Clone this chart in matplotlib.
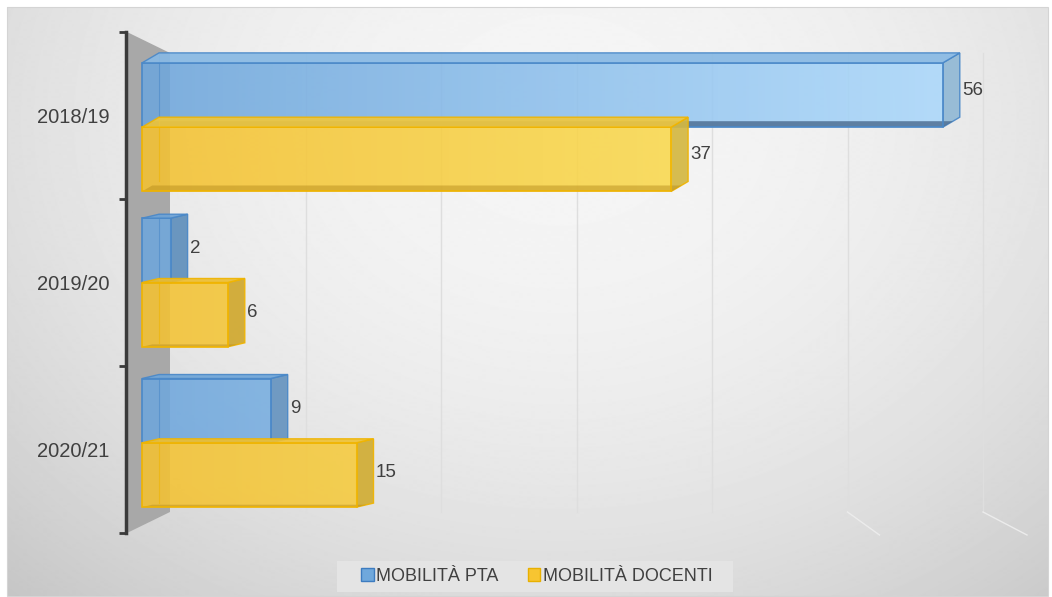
import numpy as np
import matplotlib.pyplot as plt
from matplotlib.patches import Polygon, Rectangle, Patch
from matplotlib.colors import LinearSegmentedColormap, to_rgb

plt.rcParams["font.family"] = ["Liberation Sans", "DejaVu Sans"]

# data
years = ["2018/19", "2019/20", "2020/21"]
pta = [56, 2, 9]
docenti = [37, 6, 15]
series_names = ["MOBILITÀ PTA", "MOBILITÀ DOCENTI"]
grid_values = [10, 20, 30, 40, 50, 60]

# canvas geometry (pixels)
W, H = 1052, 597
ZERO_PX = 142          # value 0 on the front plane
PX_PER_UNIT = 14.3     # front plane scale
BACK_ZERO_PX = 170     # value 0 on the back wall
BACK_PX_PER_UNIT = 13.55
FLOOR_PX_PER_UNIT = 14.75
CAT0_PX = 115.5        # centre of first category
CAT_PX = 167           # pixels per category

BAR_H = 0.385
GROUP_SHIFT = [0.07, 0.0, -0.04]
DEPTH_DX = 17 / PX_PER_UNIT
DEPTH_DY = [-10 / CAT_PX, -4 / CAT_PX, -4 / CAT_PX]
BAND_FRAC = 0.6

STYLES = [
    dict(lo="#6ea6dc", hi="#abd8fb", edge="#4a88c8", band="#4f7094", band_alpha=0.85,
         legend_face="#6fa8dc", legend_edge="#3d7cc0"),
    dict(lo="#f4c232", hi="#fce45c", edge="#f0b400", band="#b98f1e", band_alpha=0.5,
         legend_face="#f7c531", legend_edge="#e8b000"),
]
TEXT = "#404040"
AXIS = "#3a3a3a"


def fig_box(left, top, right, bottom):
    return [left / W, 1 - bottom / H, (right - left) / W, (bottom - top) / H]


def xpx(px):
    return (px - ZERO_PX) / PX_PER_UNIT


def ypx(px):
    return (px - CAT0_PX) / CAT_PX


def back_x(v):
    return xpx(BACK_ZERO_PX + BACK_PX_PER_UNIT * v)


def shade(color, f):
    return tuple(min(1.0, c * f) for c in to_rgb(color))


def mix(c1, c2, t):
    a, b = np.array(to_rgb(c1)), np.array(to_rgb(c2))
    return tuple(a + (b - a) * t)


fig = plt.figure(figsize=(W / 100, H / 100), dpi=100)
fig.patch.set_facecolor("white")

# chart area with soft radial lighting
bg = fig.add_axes([0, 0, 1, 1])
bg.set_xlim(0, W)
bg.set_ylim(H, 0)
bg.axis("off")
yy, xx = np.mgrid[7:597, 7:1049]
r2 = ((xx - 560) / 700.0) ** 2 + ((yy - 120) / 560.0) ** 2
light = 0.962 - 0.14 * r2
bg.imshow(light, cmap="gray", vmin=0, vmax=1, extent=(7, 1048, 596, 7),
          aspect="auto", interpolation="bilinear", zorder=0)
bg.add_patch(Rectangle((7, 7), 1041, 589, fill=False, edgecolor="#d4d4d4", lw=0.8, zorder=1))
bg.add_patch(Rectangle((337, 561), 396, 31, facecolor="#e4e4e4", edgecolor="none", zorder=1))

ax = fig.add_axes(fig_box(126, 7, 1048, 596))
ax.patch.set_visible(False)

# side wall
y_top_back, y_bot_back = ypx(53), ypx(512)
x_wall = xpx(127)
ax.add_patch(Polygon([(x_wall, -0.5), (back_x(0), y_top_back), (back_x(0), y_bot_back), (x_wall, 2.5)],
                     closed=True, facecolor="#a8a8a8", edgecolor="none", zorder=1))

# back wall gridlines; floor lines only show where they open well outwards
y_floor = ypx(535)
for v in grid_values:
    xb = back_x(v)
    xf = xpx(ZERO_PX + FLOOR_PX_PER_UNIT * v)
    ax.plot([xb, xb], [y_top_back, y_bot_back], color="#dedede", lw=1.0, zorder=1.5)
    if xf > xb + 2:
        ax.plot([xb, xf], [y_bot_back, y_floor], color="#ececec", lw=1.0, zorder=1.5)

vmax = max(max(pta), max(docenti))
grad = np.linspace(0, 1, 256)[None, :]

for s, values in enumerate([pta, docenti]):
    st = STYLES[s]
    cmap = LinearSegmentedColormap.from_list(f"s{s}", [st["lo"], st["hi"]])
    for i, v in enumerate(values):
        dy = DEPTH_DY[i]
        centre = i + GROUP_SHIFT[i] + (s - 0.5) * BAR_H
        top, bot = centre - BAR_H / 2, centre + BAR_H / 2
        z = 2 + s * 2
        end_col = mix(st["lo"], st["hi"], v / vmax)
        mid_col = mix(st["lo"], st["hi"], v / vmax / 2)

        # right end face
        ax.add_patch(Polygon([(v, top), (v + DEPTH_DX, top + dy), (v + DEPTH_DX, bot + dy), (v, bot)],
                             closed=True, facecolor=shade(end_col, 0.85), edgecolor=st["edge"],
                             lw=1.0, alpha=0.92, zorder=z))
        # front face with gradient
        bar = ax.barh(centre, v, height=BAR_H, left=0, color="none", edgecolor=st["edge"],
                      lw=1.2, zorder=z + 0.3)[0]
        im = ax.imshow(grad, cmap=cmap, extent=(0, vmax, bot, top), aspect="auto",
                       alpha=0.88, zorder=z + 0.1)
        im.set_clip_path(bar)
        # bottom face seen through the front
        bdx, bdy = DEPTH_DX * BAND_FRAC, dy * BAND_FRAC
        ax.add_patch(Polygon([(0, bot), (v, bot), (v + bdx, bot + bdy), (bdx, bot + bdy)],
                             closed=True, facecolor=st["band"], edgecolor="none",
                             alpha=st["band_alpha"], zorder=z + 0.2))
        # top face
        ax.add_patch(Polygon([(0, top), (v, top), (v + DEPTH_DX, top + dy), (DEPTH_DX, top + dy)],
                             closed=True, facecolor=shade(mid_col, 0.97), edgecolor=st["edge"],
                             lw=1.0, alpha=0.92, zorder=z + 0.4))
        # back edge visible through the box
        ax.plot([DEPTH_DX, DEPTH_DX], [top + dy, bot + dy], color=st["edge"], lw=0.8,
                alpha=0.6, zorder=z + 0.25)

        ax.annotate(str(v), (v + DEPTH_DX, centre + dy / 2), xytext=(2, 0),
                    textcoords="offset pixels", ha="left", va="center",
                    fontsize=13.5, color=TEXT, zorder=10)

ax.set_xlim(xpx(126), xpx(1048))
ax.set_ylim(ypx(596), ypx(7))

for side in ["top", "right", "bottom"]:
    ax.spines[side].set_visible(False)
ax.spines["left"].set_bounds(-0.5, 2.5)
ax.spines["left"].set_color(AXIS)
ax.spines["left"].set_linewidth(2.5)
ax.spines["left"].set_zorder(6)
ax.set_xticks([])
ax.set_yticks(range(len(years)), years)
ax.set_yticks([-0.5, 0.5, 1.5, 2.5], minor=True)
ax.tick_params(axis="y", which="major", length=0, pad=12, labelsize=14.5, labelcolor=TEXT)
ax.tick_params(axis="y", which="minor", length=5, width=2, color=AXIS, direction="out")

handles = [Patch(facecolor=st["legend_face"], edgecolor=st["legend_edge"]) for st in STYLES]
fig.legend(handles, series_names, loc="center", bbox_to_anchor=(537 / W, 1 - 576.5 / H),
           ncol=2, frameon=False, fontsize=13, handlelength=0.7, handleheight=0.7,
           handletextpad=0.15, columnspacing=1.6, labelcolor=TEXT)

fig.savefig("out.png", dpi=100)
